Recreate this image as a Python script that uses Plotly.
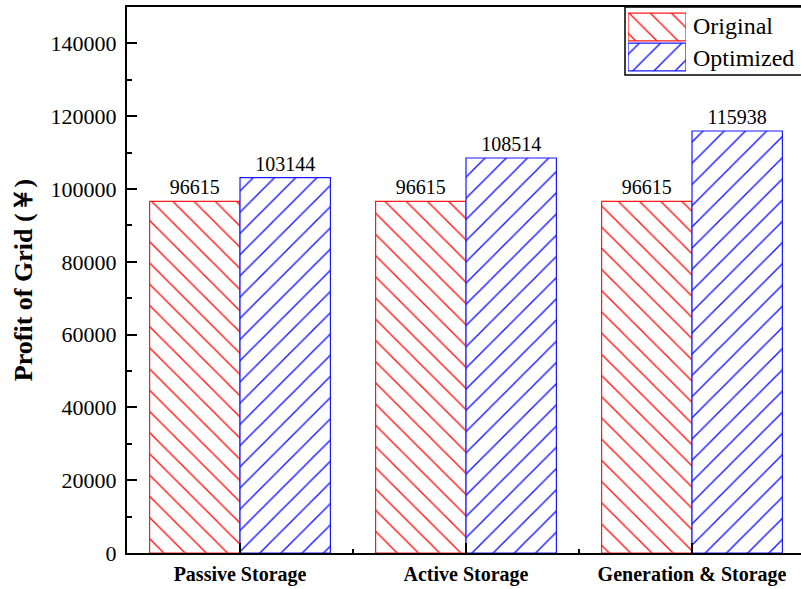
import plotly.graph_objects as go

categories = ["Passive Storage", "Active Storage", "Generation & Storage"]
original = [96615, 96615, 96615]
optimized = [103144, 108514, 115938]
series_names = ["Original", "Optimized"]
y_title = "Profit of Grid (￥)"

SERIF = "Liberation Serif"
RED = "#ff1a1a"
BLUE = "#1a1aff"
PAT_SIZE = 15
PAT_SOL = 0.095

xpos = list(range(len(categories)))

fig = go.Figure()
for name, vals, col, shp in [(series_names[0], original, RED, "\\"),
                             (series_names[1], optimized, BLUE, "/")]:
    fig.add_trace(go.Bar(
        x=xpos, y=vals, name=name, showlegend=False,
        marker=dict(color="white",
                    line=dict(color=col, width=1.2),
                    pattern=dict(shape=shp, fgcolor=col, bgcolor="white",
                                 size=PAT_SIZE, solidity=PAT_SOL, fgopacity=1)),
        text=vals, texttemplate="%{text}", textposition="outside",
        textfont=dict(family=SERIF, size=20, color="black"),
        cliponaxis=False,
    ))

# legend swatches drawn as bars in a small auxiliary axis
fig.add_trace(go.Bar(
    x=[1, 1], y=[1, 0], orientation="h", xaxis="x3", yaxis="y3",
    width=0.93, showlegend=False, hoverinfo="skip",
    marker=dict(color="white", line=dict(color=[RED, BLUE], width=1.2),
                pattern=dict(shape=["\\", "/"], fgcolor=[RED, BLUE],
                             bgcolor="white", size=PAT_SIZE, solidity=PAT_SOL,
                             fgopacity=1)),
))

W, H = 801, 589
ml, mr, mt, mb = 127, 0, 7, 36
pw = W - ml - mr
ph = H - mt - mb
cat_px = 226.0
xr = [-0.5, -0.5 + pw / cat_px]

def px_x(x):
    return (x - ml) / pw

def px_y(y):
    return (H - mb - y) / ph

fig.update_layout(
    width=W, height=H,
    margin=dict(l=ml, r=mr, t=mt, b=mb),
    paper_bgcolor="white", plot_bgcolor="white",
    barmode="group", bargap=0.2, bargroupgap=0,
    font=dict(family=SERIF, color="black"),
    xaxis=dict(range=xr, tickvals=xpos, ticktext=categories,
               ticks="inside", ticklen=10, tickwidth=2, tickcolor="black",
               showline=True, linewidth=2, linecolor="black", mirror=True,
               showgrid=False, zeroline=False,
               tickfont=dict(family=SERIF, size=20, color="black", weight="bold"),
               ticklabelstandoff=2,
               minor=dict(tick0=0.5, dtick=1, ticks="inside", ticklen=4,
                          tickwidth=2, tickcolor="black", showgrid=False)),
    yaxis=dict(range=[0, 150000], dtick=20000, tick0=0, tickformat="d",
               ticks="inside", ticklen=10, tickwidth=2, tickcolor="black",
               showline=True, linewidth=2, linecolor="black",
               showgrid=False, zeroline=False,
               tickfont=dict(family=SERIF, size=22, color="black"),
               ticklabelstandoff=4,
               minor=dict(dtick=10000, ticks="inside", ticklen=5,
                          tickwidth=2, tickcolor="black", showgrid=False),
               title=dict(text=y_title, standoff=10,
                          font=dict(family=SERIF, size=26, color="black",
                                    weight="bold"))),
    yaxis2=dict(overlaying="y", side="right", anchor="x", range=[0, 150000],
                dtick=20000, tick0=0, ticks="inside", ticklen=8, tickwidth=2,
                tickcolor="black", showline=False, showticklabels=False,
                showgrid=False, zeroline=False,
                minor=dict(dtick=10000, ticks="inside", ticklen=4,
                           tickwidth=2, tickcolor="black", showgrid=False)),
    xaxis3=dict(domain=[px_x(628), px_x(686)], range=[0, 1], anchor="y3",
                visible=False, fixedrange=True),
    yaxis3=dict(domain=[px_y(72), px_y(12)], range=[-0.5, 1.5], anchor="x3",
                visible=False, fixedrange=True),
)

fig.add_shape(type="rect", xref="paper", yref="paper",
              x0=px_x(625), x1=1.02, y0=px_y(75), y1=1,
              line=dict(color="black", width=1.5), fillcolor="rgba(0,0,0,0)",
              layer="above")
for name, yc in [(series_names[0], 26), (series_names[1], 57.5)]:
    fig.add_annotation(text=name, xref="paper", yref="paper",
                       x=px_x(691), y=px_y(yc), xanchor="left", yanchor="middle",
                       showarrow=False,
                       font=dict(family=SERIF, size=24, color="black"))

fig.write_html("out.html")
